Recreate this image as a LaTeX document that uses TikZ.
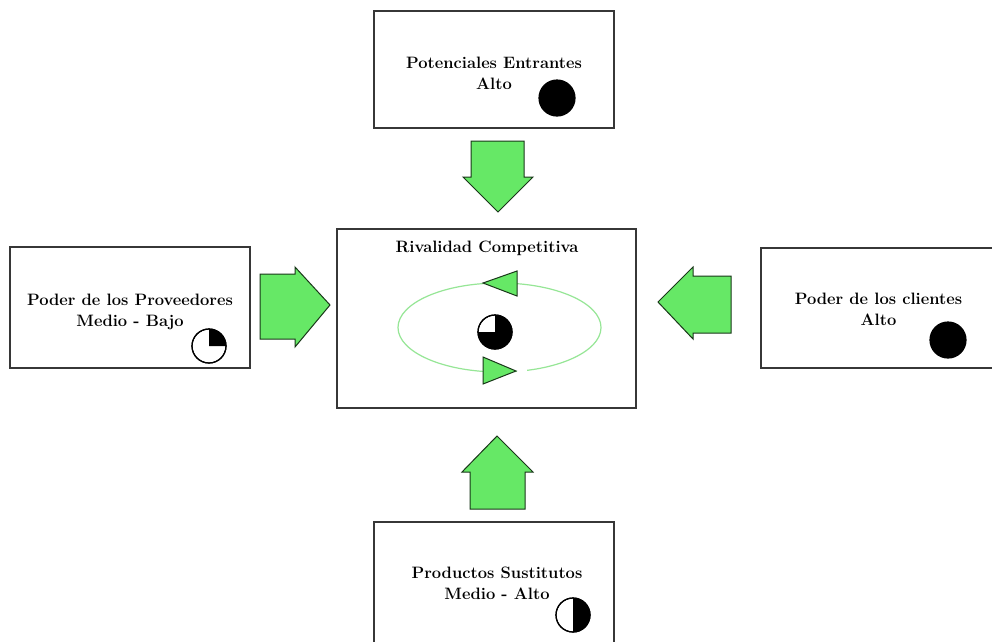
\documentclass[tikz,border=0pt]{standalone}
\usetikzlibrary{calc}
\definecolor{arrowfill}{RGB}{102,232,102}
\definecolor{arrowline}{RGB}{25,55,25}
\definecolor{orbit}{RGB}{150,230,150}
\definecolor{boxline}{RGB}{55,55,55}
\tikzset{
  forcebox/.style={draw=boxline, line width=1.2pt, fill=white, inner sep=0pt},
  forcetext/.style={inner sep=0pt, anchor=north, align=center, font=\fontsize{16.5}{21}\selectfont\bfseries},
  blockarrow/.style={draw=arrowline, fill=arrowfill, line width=1pt, line join=miter},
  piecircle/.style={draw=black, line width=1.2pt, fill=white},
}
% level pie: full, half, quarter
\newcommand{\levelpie}[2]{%
  \begin{scope}[shift={#1}, x=1pt, y=1pt]
    #2
  \end{scope}}
\begin{document}
\begin{tikzpicture}[x=1pt, y=-1pt]
  \useasboundingbox (0,0) rectangle (992,641);
  \clip (0,0) rectangle (992,641);
  \fill[white] (0,0) rectangle (992,641);

  % the five forces
  \node[forcebox, minimum width=240pt, minimum height=117pt] (entrantes) at (494,69.5) {};
  \node[forcebox, minimum width=240pt, minimum height=121pt] (proveedores) at (130,307.5) {};
  \node[forcebox, minimum width=299pt, minimum height=179pt] (rivalidad) at (486.5,318.5) {};
  \node[forcebox, minimum width=250pt, minimum height=120pt] (clientes) at (886,308) {};
  \node[forcebox, minimum width=240pt, minimum height=140pt] (sustitutos) at (494,592) {};

  \node[forcetext] (t-entrantes) at (494,56.5) {Potenciales Entrantes\\Alto};
  \node[forcetext] (t-proveedores) at (130,293.5) {Poder de los Proveedores\\Medio - Bajo};
  \node[forcetext] (t-rivalidad) at (487,240.5) {Rivalidad Competitiva};
  \node[forcetext] (t-clientes) at (878.5,292.5) {Poder de los clientes\\Alto};
  \node[forcetext] (t-sustitutos) at (497,566.5) {Productos Sustitutos\\Medio - Alto};

  % block arrows pointing at the central box
  \draw[blockarrow] (471,141) -- (524,141) -- (524,177) -- (533,177) -- (498,212)
    -- (463,177) -- (471,177) -- cycle;
  \draw[blockarrow] (470,509) -- (525,509) -- (525,472) -- (533,472) -- (497,436)
    -- (462,472) -- (470,472) -- cycle;
  \draw[blockarrow] (260,274) -- (295,274) -- (295,267) -- (330,305) -- (295,347)
    -- (295,339) -- (260,339) -- cycle;
  \draw[blockarrow] (731,276) -- (693,276) -- (693,267) -- (658,302) -- (693,339)
    -- (693,333) -- (731,333) -- cycle;

  % rivalry cycle
  \draw[orbit, line width=1.2pt] (499.5,327.5) ellipse [x radius=101.5, y radius=44.5];
  \fill[white] (517,366) rectangle (527,376);
  \draw[blockarrow] (483,283) -- (517,271) -- (517,296) -- cycle;
  \draw[blockarrow] (483,357) -- (516,371) -- (483,384) -- cycle;

  % level indicators
  \levelpie{(557,98)}{\draw[piecircle, fill=black] (0,0) circle (18);}
  \levelpie{(948,340)}{\draw[piecircle, fill=black] (0,0) circle (18);}
  \levelpie{(209,346)}{%
    \draw[piecircle] (0,0) circle (17);
    \fill[black] (0,0) -- (0,17) arc[start angle=90, end angle=0, radius=17] -- cycle;
    \draw[line width=1.2pt] (0,0) circle (17);}
  \levelpie{(495,332)}{%
    \draw[piecircle] (0,0) circle (17);
    \fill[black] (0,0) -- (0,17) arc[start angle=90, end angle=-180, radius=17] -- cycle;
    \draw[line width=1.2pt] (0,0) circle (17);}
  \levelpie{(573,615)}{%
    \draw[piecircle] (0,0) circle (17);
    \fill[black] (0,0) -- (0,17) arc[start angle=90, end angle=-90, radius=17] -- cycle;
    \draw[line width=1.2pt] (0,0) circle (17);}
\end{tikzpicture}
\end{document}
